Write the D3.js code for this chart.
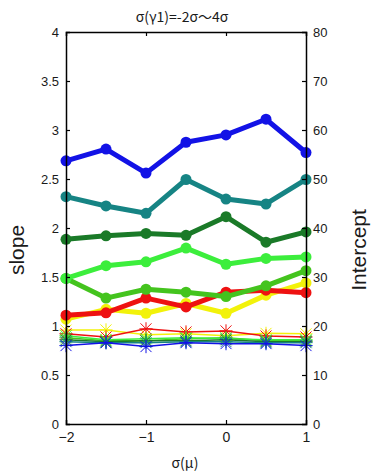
<!DOCTYPE html>
<html><head><meta charset="utf-8">
<script src="https://cdn.jsdelivr.net/npm/d3@7"></script>
<style>body{margin:0;background:#fff}svg{display:block}text{font-family:"Liberation Sans","Noto Sans CJK JP",sans-serif;fill:#1a1a1a}</style>
</head><body><svg id="c" width="371" height="472"></svg>
<script>
const xValues = [-2, -1.5, -1, -0.5, 0, 0.5, 1];
const xTicks = [-2, -1, 0, 1];
const slopeTicks = [0, 0.5, 1, 1.5, 2, 2.5, 3, 3.5, 4];
const interceptTicks = [0, 10, 20, 30, 40, 50, 60, 70, 80];
const seriesNames = ["yellow", "red", "midgreen", "lime", "darkgreen", "teal", "blue"];
const seriesColors = ["#f2f20a", "#ee1111", "#44c41e", "#3cee3c", "#1a7a28", "#168484", "#1212e6"];
// Intercept (thick lines, filled circles, right axis)
const interceptYellow = [21.4, 23.4, 22.6, 24.6, 22.6, 26.3, 28.8];
const interceptRed = [22.2, 22.7, 25.7, 23.9, 26.9, 27.3, 26.8];
const interceptMidGreen = [29.7, 25.7, 27.5, 26.9, 26.0, 28.2, 31.3];
const interceptLime = [29.7, 32.3, 33.1, 35.9, 32.6, 33.8, 34.1];
const interceptDarkGreen = [37.7, 38.4, 38.9, 38.5, 42.3, 37.1, 39.2];
const interceptTeal = [46.4, 44.5, 43.0, 49.9, 45.9, 44.9, 49.9];
const interceptBlue = [53.7, 56.1, 51.2, 57.5, 59.0, 62.2, 55.4];
// Slope (thin lines, asterisks, left axis)
const slopeYellow = [0.958, 0.96, 0.91, 0.92, 0.90, 0.925, 0.92];
const slopeRed = [0.921, 0.888, 0.971, 0.939, 0.95, 0.898, 0.888];
const slopeMidGreen = [0.88, 0.85, 0.85, 0.87, 0.88, 0.85, 0.85];
const slopeLime = [0.90, 0.86, 0.87, 0.88, 0.87, 0.86, 0.86];
const slopeDarkGreen = [0.86, 0.84, 0.85, 0.85, 0.86, 0.84, 0.84];
const slopeTeal = [0.84, 0.83, 0.83, 0.84, 0.84, 0.83, 0.83];
const slopeBlue = [0.80, 0.83, 0.79, 0.83, 0.82, 0.82, 0.80];

const interceptSeries = [interceptYellow, interceptRed, interceptMidGreen, interceptLime, interceptDarkGreen, interceptTeal, interceptBlue];
const slopeSeries = [slopeYellow, slopeRed, slopeMidGreen, slopeLime, slopeDarkGreen, slopeTeal, slopeBlue];

const L = 66, R = 306, T = 32, B = 424;
const svg = d3.select("#c");
const x = d3.scaleLinear().domain([-2, 1]).range([L, R]);
const yS = d3.scaleLinear().domain([0, 4]).range([B, T]);
const yI = d3.scaleLinear().domain([0, 80]).range([B, T]);

const g = svg.append("g");
slopeSeries.forEach((s, i) => {
  const line = d3.line().x((d, j) => x(xValues[j])).y(d => yS(d));
  g.append("path").attr("d", line(s)).attr("fill", "none").attr("stroke", seriesColors[i]).attr("stroke-width", 1.5);
  s.forEach((d, j) => {
    const cx = x(xValues[j]), cy = yS(d), r = 5.5;
    const p = `M${cx-r},${cy-r}L${cx+r},${cy+r}M${cx-r},${cy+r}L${cx+r},${cy-r}M${cx},${cy-r*1.2}L${cx},${cy+r*1.2}M${cx-r*1.2},${cy}L${cx+r*1.2},${cy}`;
    g.append("path").attr("d", p).attr("stroke", seriesColors[i]).attr("stroke-width", 1).attr("fill", "none");
  });
});
interceptSeries.forEach((s, i) => {
  const line = d3.line().x((d, j) => x(xValues[j])).y(d => yI(d));
  g.append("path").attr("d", line(s)).attr("fill", "none").attr("stroke", seriesColors[i]).attr("stroke-width", 5).attr("stroke-linejoin", "round");
  g.selectAll(null).data(s).enter().append("circle")
    .attr("cx", (d, j) => x(xValues[j])).attr("cy", d => yI(d)).attr("r", 5.5).attr("fill", seriesColors[i]);
});

const fmt = d3.format("");
const axB = svg.append("g").attr("transform", `translate(0,${B})`)
  .call(d3.axisBottom(x).tickValues(xTicks).tickSize(-4).tickPadding(8).tickFormat(fmt));
const axT = svg.append("g").attr("transform", `translate(0,${T})`)
  .call(d3.axisTop(x).tickValues(xTicks).tickSize(-4).tickFormat(""));
const axL = svg.append("g").attr("transform", `translate(${L},0)`)
  .call(d3.axisLeft(yS).tickValues(slopeTicks).tickSize(-4).tickPadding(7).tickFormat(fmt));
const axR = svg.append("g").attr("transform", `translate(${R},0)`)
  .call(d3.axisRight(yI).tickValues(interceptTicks).tickSize(-4).tickPadding(7).tickFormat(fmt));
[axB, axT, axL, axR].forEach(a => {
  a.select(".domain").attr("stroke", "#000").attr("stroke-width", 1.5);
  a.selectAll(".tick line").attr("stroke", "#000").attr("stroke-width", 1.2);
  a.selectAll("text").attr("font-size", 13).attr("fill", "#1a1a1a")
    .style("font-family", '"Liberation Sans",sans-serif');
});
axL.selectAll(".tick").filter(d => d === 0 || d === 4).select("line").remove();
axR.selectAll(".tick").filter(d => d === 0 || d === 80).select("line").remove();
axB.selectAll(".tick").filter(d => d === -2 || d === 1).select("line").remove();
axT.selectAll(".tick").filter(d => d === -2 || d === 1).select("line").remove();
axB.selectAll("text").attr("font-size", 14);

svg.append("text").attr("x", 182).attr("y", 22).attr("text-anchor", "middle").attr("font-size", 14)
  .style("font-family", '"Noto Sans CJK JP",sans-serif').text("σ(γ1)=-2σ～4σ");
svg.append("text").attr("x", 185).attr("y", 468).attr("text-anchor", "middle").attr("font-size", 14)
  .style("font-family", '"Noto Sans CJK JP",sans-serif').text("σ(μ)");
svg.append("text").attr("transform", "translate(24,250) rotate(-90)").attr("text-anchor", "middle").attr("font-size", 21).text("slope");
svg.append("text").attr("transform", "translate(366,250) rotate(-90)").attr("text-anchor", "middle").attr("font-size", 21).text("Intercept");
</script></body></html>
